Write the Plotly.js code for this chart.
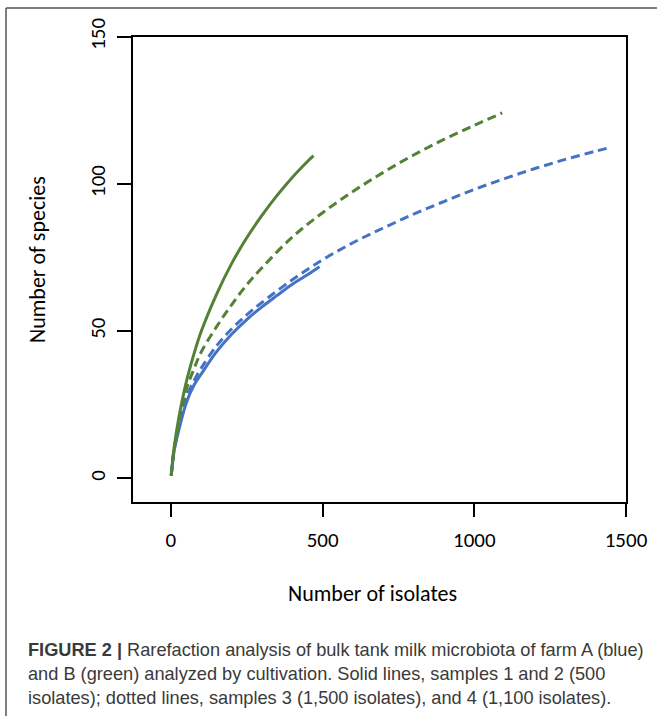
<!DOCTYPE html>
<html>
<head>
<meta charset="utf-8">
<script src="https://cdn.plot.ly/plotly-3.0.1.min.js"></script>
<style>
  html, body { margin: 0; padding: 0; background: #fff; }
  #chart { width: 657px; height: 716px; }
</style>
</head>
<body>
<div id="chart"></div>
<script>
// ---- data ----
const farmA_solid_x = [1, 10, 25, 50, 75, 100, 150, 200, 250, 300, 350, 400, 450, 490];
const farmA_solid_y = [1, 9, 16, 25.5, 31.5, 35.5, 43, 49, 54, 58.3, 62.2, 66, 69.2, 71.9];

const farmB_solid_x = [1, 10, 25, 50, 75, 100, 150, 200, 250, 300, 350, 400, 450, 470];
const farmB_solid_y = [1, 10, 20, 32.5, 42, 50, 62.5, 73, 81.8, 89.4, 96.2, 102.3, 107.7, 109.7];

const farmA_dashed_x = [1, 10, 25, 50, 75, 100, 150, 200, 250, 300, 400, 500, 600, 700, 800, 900, 1000, 1100, 1200, 1300, 1400, 1445];
const farmA_dashed_y = [1, 9.5, 17, 27.5, 33, 37.5, 45, 50.8, 55.6, 59.8, 67.5, 74.3, 80.1, 85.1, 89.8, 94.1, 98.2, 101.9, 105.3, 108.4, 111.2, 112.4];

const farmB_dashed_x = [1, 10, 25, 50, 75, 100, 150, 200, 250, 300, 400, 500, 600, 700, 800, 900, 1000, 1092];
const farmB_dashed_y = [1, 9.5, 18.5, 30, 37, 43, 51.5, 59, 65.8, 71.6, 82, 90.3, 97.5, 104, 109.9, 115.2, 120, 124.2];

const xTicks = [0, 500, 1000, 1500];
const yTicks = [0, 50, 100, 150];

const xTitle = "Number of isolates";
const yTitle = "Number of species";
const captionLines = [
  "<b>FIGURE 2 |</b> Rarefaction analysis of bulk tank milk microbiota of farm A (blue)",
  "and B (green) analyzed by cultivation. Solid lines, samples 1 and 2 (500",
  "isolates); dotted lines, samples 3 (1,500 isolates), and 4 (1,100 isolates)."
];

// ---- styles ----
const BLUE = "#4472C4";
const GREEN = "#538135";
const FONT = "Carlito, Lato, 'Open Sans', sans-serif";
const CAPFONT = "'Liberation Sans', Arial, sans-serif";

// pixel geometry helpers (plot area: x 133..626, y 37..502)
const L = 133, R = 626, T = 37, B = 502;
const W = 657, H = 716;
const px = v => (v - L) / (R - L);
const py = v => (B - v) / (B - T);

const traces = [
  {x: farmA_solid_x, y: farmA_solid_y, mode: "lines", line: {color: BLUE, width: 3, shape: "spline"}},
  {x: farmB_solid_x, y: farmB_solid_y, mode: "lines", line: {color: GREEN, width: 3, shape: "spline"}},
  {x: farmA_dashed_x, y: farmA_dashed_y, mode: "lines", line: {color: BLUE, width: 3, dash: "9px,5px", shape: "spline"}},
  {x: farmB_dashed_x, y: farmB_dashed_y, mode: "lines", line: {color: GREEN, width: 3, dash: "9px,5px", shape: "spline"}}
];

const annotations = [
  {text: xTitle, xref: "paper", yref: "paper", x: px(372), y: py(593), xanchor: "center", yanchor: "middle",
   showarrow: false, font: {family: FONT, size: 22, color: "#000"}},
  {text: yTitle, xref: "paper", yref: "paper", x: px(37), y: py(260), xanchor: "center", yanchor: "middle",
   textangle: -90, showarrow: false, font: {family: FONT, size: 22, color: "#000"}}
];
const capY = [650, 674, 698];
captionLines.forEach((t, i) => {
  annotations.push({text: t, xref: "paper", yref: "paper", x: px(26), y: py(capY[i]),
    xanchor: "left", yanchor: "middle", align: "left", showarrow: false,
    font: {family: CAPFONT, size: 18.2, color: "#3a3a3a"}});
});

const shapes = [
  {type: "line", xref: "paper", yref: "paper", x0: px(6), x1: px(W + 5), y0: py(8), y1: py(8),
   line: {color: "#555", width: 1.5}},
  {type: "line", xref: "paper", yref: "paper", x0: px(6), x1: px(6), y0: py(8), y1: py(H + 5),
   line: {color: "#555", width: 1.5}}
];

const layout = {
  width: W, height: H,
  margin: {l: L, r: W - R, t: T, b: H - B, pad: 0},
  paper_bgcolor: "#fff", plot_bgcolor: "#fff",
  showlegend: false,
  font: {family: FONT, size: 21, color: "#000"},
  xaxis: {
    range: [-125, 1500], tickvals: xTicks, ticktext: xTicks.map(String),
    showgrid: false, zeroline: false, showline: true, mirror: true,
    linecolor: "#000", linewidth: 2, ticks: "outside", ticklen: 13, tickwidth: 2, tickcolor: "#000",
    ticklabelstandoff: 5, tickfont: {family: FONT, size: 21, color: "#000"}, fixedrange: true
  },
  yaxis: {
    range: [-8, 150], tickvals: yTicks, ticktext: yTicks.map(String),
    showgrid: false, zeroline: false, showline: true, mirror: true,
    linecolor: "#000", linewidth: 2, ticks: "outside", ticklen: 14, tickwidth: 2, tickcolor: "#000",
    tickangle: -90, ticklabelstandoff: 4, tickfont: {family: FONT, size: 21, color: "#000"}, fixedrange: true
  },
  annotations: annotations,
  shapes: shapes
};

Plotly.newPlot("chart", traces, layout, {displayModeBar: false, staticPlot: true});
</script>
</body>
</html>
